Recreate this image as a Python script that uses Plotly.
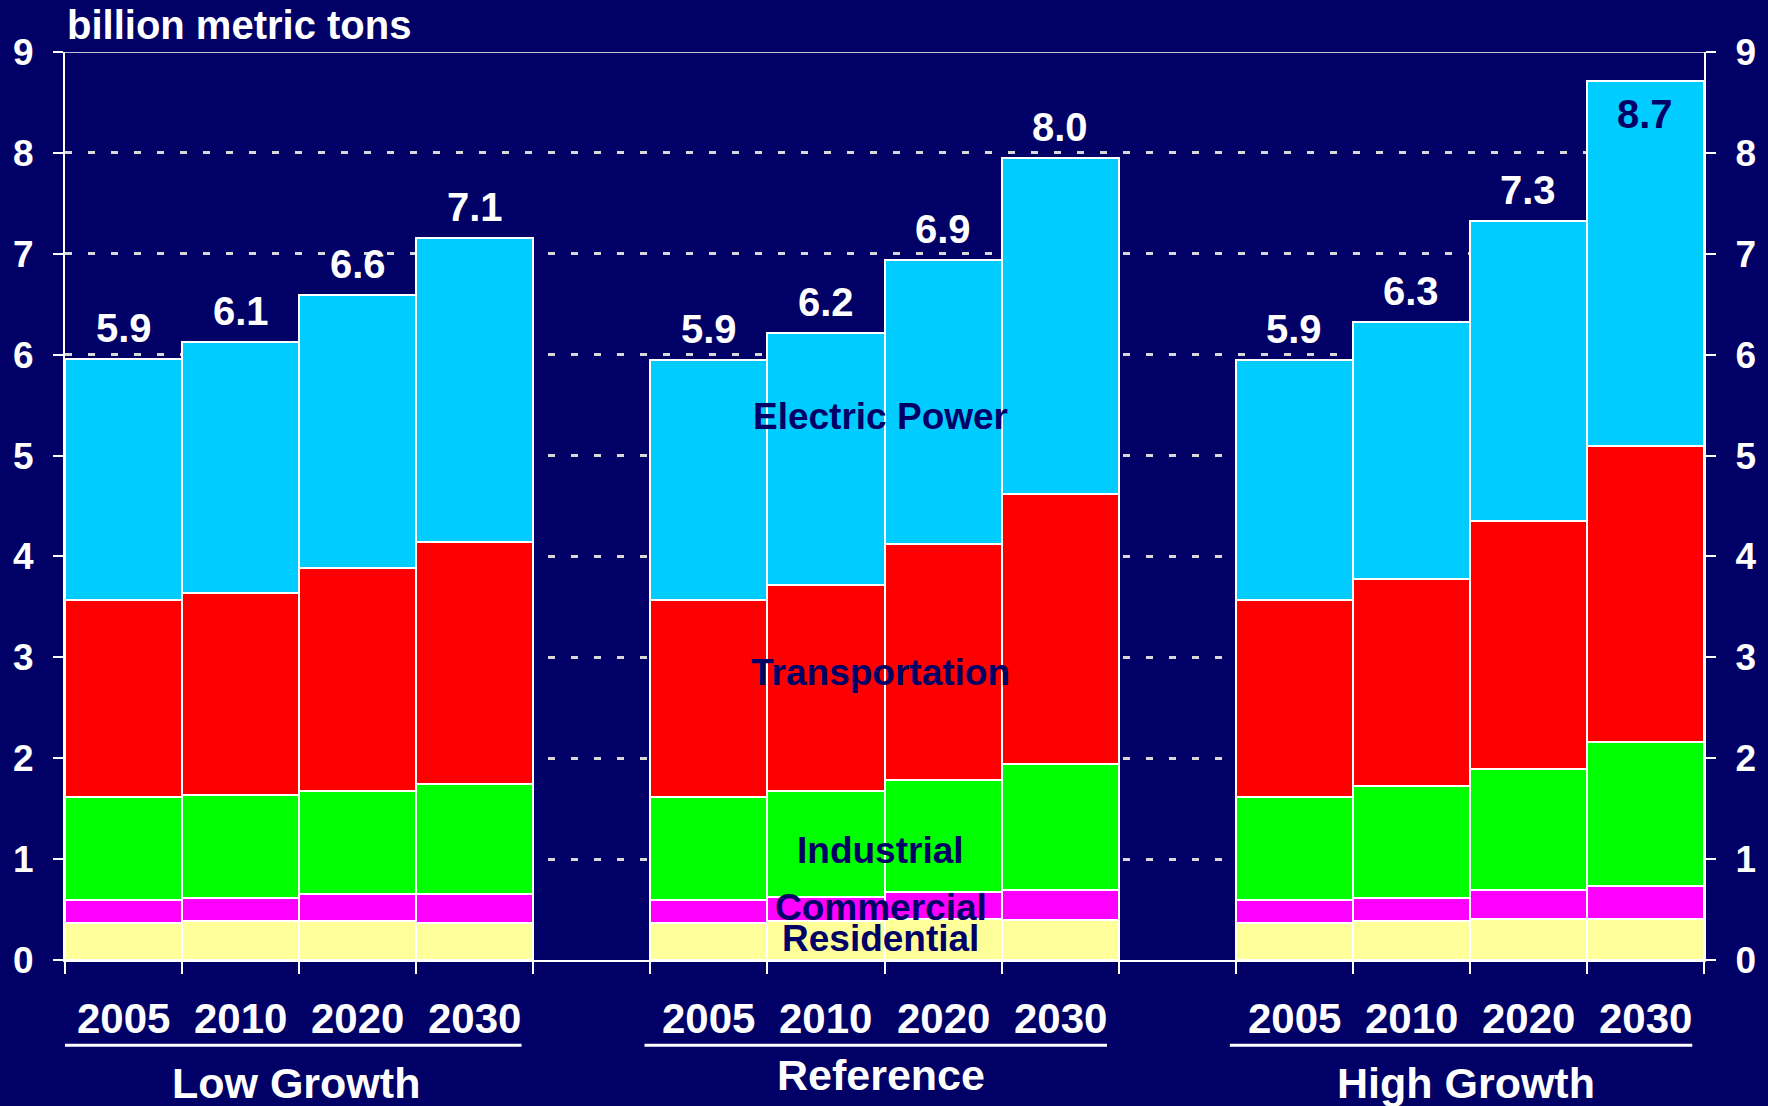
import plotly.graph_objects as go

# ---------------- data ----------------
groups = ["Low Growth", "Reference", "High Growth"]
years = ["2005", "2010", "2020", "2030"]
sectors = ["Residential", "Commercial", "Industrial", "Transportation", "Electric Power"]

residential = [0.37, 0.39, 0.39, 0.37,  0.37, 0.39, 0.41, 0.40,  0.37, 0.39, 0.41, 0.41]
commercial = [0.22, 0.22, 0.26, 0.28,  0.22, 0.23, 0.26, 0.29,  0.22, 0.22, 0.28, 0.32]
industrial = [1.03, 1.03, 1.03, 1.09,  1.03, 1.06, 1.11, 1.25,  1.03, 1.11, 1.20, 1.43]
transportation = [1.95, 2.00, 2.21, 2.40,  1.95, 2.04, 2.34, 2.68,  1.95, 2.06, 2.46, 2.93]
electric_power = [2.39, 2.49, 2.70, 3.02,  2.38, 2.49, 2.82, 3.33,  2.38, 2.54, 2.97, 3.62]
total_labels = ["5.9", "6.1", "6.6", "7.1", "5.9", "6.2", "6.9", "8.0", "5.9", "6.3", "7.3", "8.7"]

y_ticks = list(range(0, 10))

series = [residential, commercial, industrial, transportation, electric_power]
colors = ["#FFFF99", "#FF00FF", "#00FF00", "#FF0000", "#00CCFF"]

BG = "#000066"
NAVY = "#000066"
FONT = "Liberation Sans, Arial, sans-serif"

# bar slot positions: 4 bars per group, one empty slot between groups
xpos = [g * 5 + i for g in range(len(groups)) for i in range(len(years))]
totals = [sum(s[k] for s in series) for k in range(len(xpos))]

fig = go.Figure()
for name, vals, col in zip(sectors, series, colors):
    fig.add_trace(go.Bar(
        x=xpos, y=vals, name=name, width=1.0,
        marker=dict(color=col, line=dict(color="white", width=2)),
        showlegend=False, hoverinfo="skip",
    ))

# invisible trace for right axis
fig.add_trace(go.Scatter(x=[xpos[0]], y=[0], yaxis="y2", mode="markers",
                         marker=dict(opacity=0), showlegend=False, hoverinfo="skip"))

annotations = []
# value labels
for x, t, lab in zip(xpos, totals, total_labels):
    inside = t > 8.4
    annotations.append(dict(
        x=x, y=t, xref="x", yref="y", text=lab, showarrow=False,
        yanchor="middle", yshift=-33 if inside else 31,
        font=dict(family=FONT, size=40, color=NAVY if inside else "white", weight="bold"),
    ))
# year labels
for x, k in zip(xpos, range(len(xpos))):
    annotations.append(dict(
        x=x, y=0, xref="x", yref="paper", text=years[k % 4], showarrow=False,
        yanchor="middle", yshift=-58,
        font=dict(family=FONT, size=42, color="white", weight="bold"),
    ))
# group labels and underlines
shapes = []
group_yshift = [-123, -115, -123]
for g, name in enumerate(groups):
    start = g * 5 - 0.5
    end = g * 5 + 3.5
    annotations.append(dict(
        x=(start + end) / 2 - 0.03, y=0, xref="x", yref="paper", text=name, showarrow=False,
        yanchor="middle", yshift=group_yshift[g],
        font=dict(family=FONT, size=43, color="white", weight="bold"),
    ))
    shapes.append(dict(type="line", xref="x", yref="paper",
                       x0=start - 0.05, x1=end - 0.1, y0=-0.094, y1=-0.094,
                       line=dict(color="white", width=3)))

# sector labels over the Reference group
center = 1 * 5 + 1.5
label_y = {"Electric Power": 5.39, "Transportation": 2.85, "Industrial": 1.09,
           "Commercial": 0.52, "Residential": 0.21}
for name, yv in label_y.items():
    annotations.append(dict(
        x=center - 0.03, y=yv, xref="x", yref="y", text=name, showarrow=False,
        yanchor="middle",
        font=dict(family=FONT, size=37, color=NAVY, weight="bold"),
    ))

# unit label
annotations.append(dict(
    x=0, y=1, xref="paper", yref="paper", text="billion metric tons", showarrow=False,
    xanchor="left", yanchor="bottom", xshift=0, yshift=3,
    font=dict(family=FONT, size=40, color="white", weight="bold"),
))

# top line at 9
shapes.append(dict(type="line", xref="paper", yref="y", x0=-0.006, x1=1.006, y0=9, y1=9,
                   line=dict(color="white", width=1.5), layer="below"))

axis_font = dict(family=FONT, size=37, color="white", weight="bold")
fig.update_layout(
    width=1768, height=1106,
    paper_bgcolor=BG, plot_bgcolor=BG,
    margin=dict(l=65, r=64, t=52, b=146),
    barmode="stack", bargap=0,
    xaxis=dict(range=[-0.5, 13.5], showgrid=False, zeroline=False,
               tickmode="array",
               tickvals=[g * 5 + i - 0.5 for g in range(3) for i in range(5)],
               ticks="outside", ticklen=12, tickwidth=2, tickcolor="white",
               showticklabels=False, showline=True, linecolor="white", linewidth=2),
    yaxis=dict(range=[0, 9], tickmode="array", tickvals=y_ticks,
               showgrid=True, gridcolor="#D8D8D8", gridwidth=3, griddash="7px,16px",
               zeroline=False, showline=True, linecolor="white", linewidth=2,
               ticks="outside", ticklen=10, tickwidth=2, tickcolor="white",
               tickfont=axis_font, ticklabelstandoff=12),
    yaxis2=dict(range=[0, 9], overlaying="y", side="right", tickmode="array", tickvals=y_ticks,
                showgrid=False, zeroline=False, showline=True, linecolor="white", linewidth=2,
                ticks="outside", ticklen=10, tickwidth=2, tickcolor="white",
                tickfont=axis_font, ticklabelstandoff=12),
    annotations=annotations,
    shapes=shapes,
)

fig.write_html("out.html",
               config={"displayModeBar": False},
               post_script="document.body.style.margin='0';document.body.style.padding='0';"
                           "document.body.style.background='#000066';")
